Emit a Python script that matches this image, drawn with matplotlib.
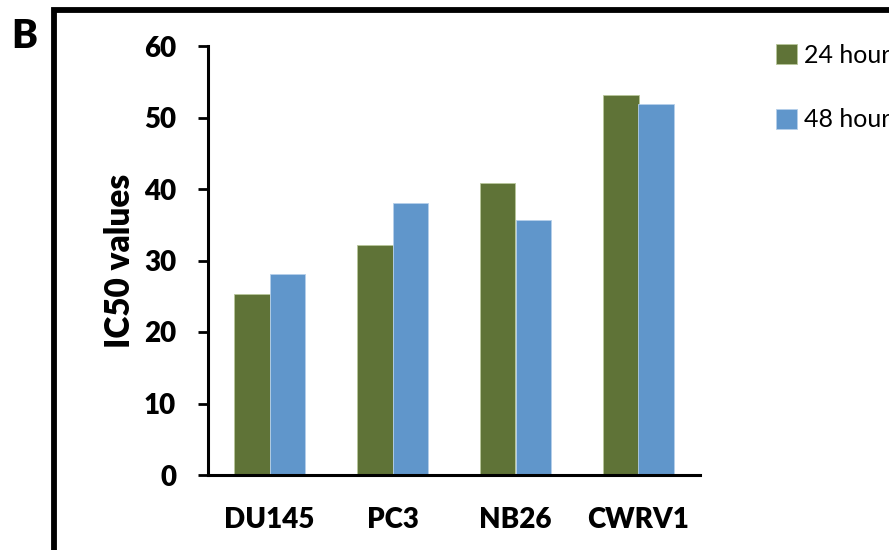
import matplotlib
matplotlib.use("Agg")
import matplotlib.pyplot as plt
import numpy as np
from matplotlib.patches import Rectangle

categories = ["DU145", "PC3", "NB26", "CWRV1"]
series_names = ["24 hour", "48 hour"]
vals_24 = [25.3, 32.2, 40.9, 53.1]
vals_48 = [28.1, 38.1, 35.7, 51.9]
yticks = [0, 10, 20, 30, 40, 50, 60]

plt.rcParams['font.family'] = ['Lato', 'DejaVu Sans']
W = 'heavy'

fig = plt.figure(figsize=(8.89, 5.5), dpi=100)
ax = fig.add_axes([208/889, 1-475/550, (700-208)/889, (475-46)/550])

x = np.arange(len(categories))
w = 0.285
c1 = "#5F7337"
c2 = "#6096CB"
b1 = ax.bar(x - w/2, vals_24, w, color=c1, edgecolor="#B8C79A", linewidth=0.6, label=series_names[0])
b2 = ax.bar(x + w/2, vals_48, w, color=c2, edgecolor="#B5CFEA", linewidth=0.6, label=series_names[1])

ax.set_xlim(-0.5, 3.5)
ax.set_ylim(0, 60)
ax.set_yticks(yticks)
ax.set_yticklabels([str(t) for t in yticks], fontsize=20, fontweight=W)
ax.set_xticks(x)
ax.set_xticklabels(categories, fontsize=20, fontweight=W)
ax.tick_params(axis='y', direction='out', length=7, width=2, pad=16)
ax.tick_params(axis='x', length=0, pad=23)
for s in ['top', 'right']:
    ax.spines[s].set_visible(False)
for s in ['left', 'bottom']:
    ax.spines[s].set_linewidth(2.2)
ax.set_ylabel("IC50 values", fontsize=24, fontweight=W)
ax.yaxis.set_label_coords(-0.146, 0.5)

# legend
fig.legend(handles=[b1, b2], labels=series_names, loc='upper left',
           bbox_to_anchor=(766/889, 1-34/550), frameon=False, fontsize=18,
           handlelength=0.85, handleheight=0.85, handletextpad=0.25, labelspacing=1.65,
           borderaxespad=0)

# panel border
fig.add_artist(Rectangle((53.5/889, -0.1), 2.0, 1 - 10.5/550 + 0.1, transform=fig.transFigure,
                         fill=False, edgecolor='black', linewidth=4.2, clip_on=False))
fig.text(11/889, 1-36/550, "B", fontsize=28, fontweight=W, va='center', ha='left')

fig.savefig("out.png", dpi=100)
